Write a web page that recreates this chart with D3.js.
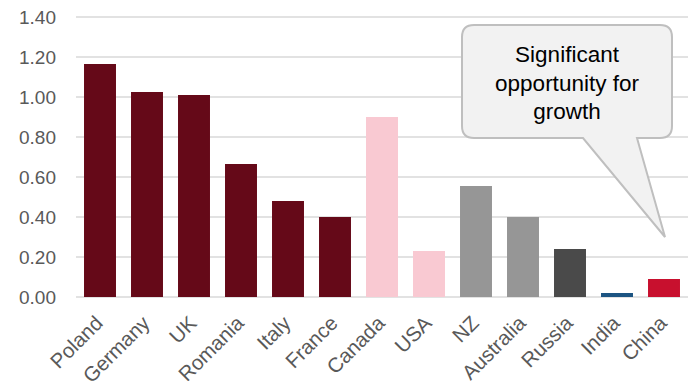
<!DOCTYPE html>
<html><head><meta charset="utf-8">
<script src="https://cdn.jsdelivr.net/npm/d3@7"></script>
<style>body{margin:0;background:#fff;}svg{display:block;}</style>
</head><body>
<script>
const categories = ["Poland","Germany","UK","Romania","Italy","France","Canada","USA","NZ","Australia","Russia","India","China"];
const values = [1.165,1.025,1.01,0.665,0.48,0.40,0.90,0.23,0.555,0.40,0.24,0.02,0.09];
const colors = ["#650918","#650918","#650918","#650918","#650918","#650918","#F9C9D2","#F9C9D2","#969696","#969696","#4A4A4A","#1C5482","#C8102E"];
const yTicks = [0,0.2,0.4,0.6,0.8,1.0,1.2,1.4];
const calloutLines = ["Significant","opportunity for","growth"];

const W=690,H=381;
const svg=d3.select("body").append("svg").attr("width",W).attr("height",H);
const x=d3.scaleBand().domain(categories).range([76.5,687.5]).paddingInner(0.32).paddingOuter(0.16);
const y=d3.scaleLinear().domain([0,1.4]).range([297,17]);
const font="Liberation Sans, Arial, sans-serif";

svg.append("g").selectAll("line").data(yTicks).join("line")
  .attr("x1",76).attr("x2",688).attr("y1",d=>y(d)).attr("y2",d=>y(d))
  .attr("stroke","#d9d9d9").attr("stroke-width",1.5);

svg.append("g").selectAll("text").data(yTicks).join("text")
  .attr("x",56).attr("y",d=>y(d)).attr("dy","0.35em").attr("text-anchor","end")
  .attr("font-family",font).attr("font-size",19).attr("fill","#595959")
  .text(d=>d3.format(".2f")(d));

svg.append("g").selectAll("rect").data(values).join("rect")
  .attr("x",(d,i)=>x(categories[i])).attr("width",x.bandwidth())
  .attr("y",d=>y(d)).attr("height",d=>y(0)-y(d)).attr("fill",(d,i)=>colors[i]);

svg.append("g").selectAll("text").data(categories).join("text")
  .attr("transform",d=>`translate(${x(d)+x.bandwidth()/2+4},${324.5}) rotate(-45)`)
  .attr("text-anchor","end")
  .attr("font-family",font).attr("font-size",20.5).attr("fill","#595959")
  .text(d=>d);

// callout
const bx0=462,bx1=672,by0=25,by1=138,r=12;
const p1=583,p2=637,tx=665,ty=237;
const path=`M${bx0+r},${by0} H${bx1-r} Q${bx1},${by0} ${bx1},${by0+r} V${by1-r} Q${bx1},${by1} ${bx1-r},${by1} H${p2} L${tx},${ty} L${p1},${by1} H${bx0+r} Q${bx0},${by1} ${bx0},${by1-r} V${by0+r} Q${bx0},${by0} ${bx0+r},${by0} Z`;
svg.append("path").attr("d",path).attr("fill","#f2f2f2").attr("stroke","#bfbfbf").attr("stroke-width",2);
svg.append("g").selectAll("text").data(calloutLines).join("text")
  .attr("x",567).attr("y",(d,i)=>62+i*28.5).attr("text-anchor","middle")
  .attr("font-family",font).attr("font-size",22.5).attr("fill","#000")
  .text(d=>d);
</script>
</body></html>
